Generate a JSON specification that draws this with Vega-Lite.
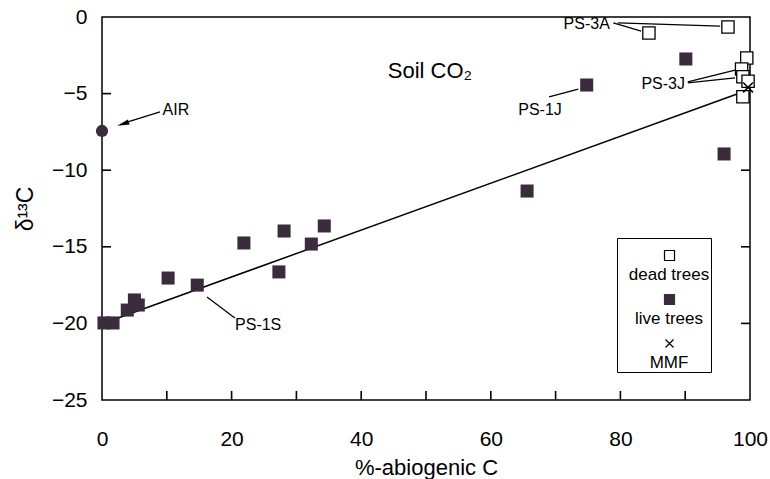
{
  "$schema": "https://vega.github.io/schema/vega-lite/v6.json",
  "width": 648,
  "height": 383,
  "autosize": {"type": "none"},
  "padding": {"left": 102, "top": 17, "right": 20, "bottom": 79},
  "background": "white",
  "config": {
    "view": {"stroke": "black", "strokeWidth": 1.5},
    "font": "Liberation Sans",
    "axis": {
      "domain": false, "ticks": false, "grid": false,
      "labelColor": "black", "titleColor": "black",
      "labelFont": "Liberation Sans", "titleFont": "Liberation Sans",
      "labelFontSize": 21, "titleFontSize": 21, "titleFontWeight": "normal"
    }
  },
  "datasets": {
    "points": [
      {"x": 0.3, "y": -19.97, "type": "live trees"},
      {"x": 1.7, "y": -19.97, "type": "live trees"},
      {"x": 3.9, "y": -19.13, "type": "live trees"},
      {"x": 5.0, "y": -18.47, "type": "live trees"},
      {"x": 5.6, "y": -18.8, "type": "live trees"},
      {"x": 10.2, "y": -17.04, "type": "live trees"},
      {"x": 14.7, "y": -17.5, "type": "live trees"},
      {"x": 21.9, "y": -14.75, "type": "live trees"},
      {"x": 27.3, "y": -16.64, "type": "live trees"},
      {"x": 28.1, "y": -13.97, "type": "live trees"},
      {"x": 32.3, "y": -14.82, "type": "live trees"},
      {"x": 34.3, "y": -13.64, "type": "live trees"},
      {"x": 65.6, "y": -11.36, "type": "live trees"},
      {"x": 74.8, "y": -4.44, "type": "live trees"},
      {"x": 90.1, "y": -2.74, "type": "live trees"},
      {"x": 96.0, "y": -8.94, "type": "live trees"},
      {"x": 84.4, "y": -1.04, "type": "dead trees"},
      {"x": 96.6, "y": -0.65, "type": "dead trees"},
      {"x": 99.5, "y": -2.68, "type": "dead trees"},
      {"x": 98.7, "y": -3.4, "type": "dead trees"},
      {"x": 98.9, "y": -3.9, "type": "dead trees"},
      {"x": 99.7, "y": -4.2, "type": "dead trees"},
      {"x": 98.9, "y": -5.2, "type": "dead trees"},
      {"x": 99.7, "y": -4.6, "type": "MMF"}
    ],
    "air": [{"x": 0, "y": -7.44}],
    "regression": [{"x": 2.5, "y": -19.65}, {"x": 99.5, "y": -4.8}],
    "xticks": [{"x": 10}, {"x": 20}, {"x": 30}, {"x": 40}, {"x": 50}, {"x": 60}, {"x": 70}, {"x": 80}, {"x": 90}],
    "yticks": [{"y": -20}, {"y": -15}, {"y": -10}, {"y": -5}],
    "leaders": [
      {"x": 78.9, "y": -0.39, "x2": 83.2, "y2": -0.92},
      {"x": 79.6, "y": -0.39, "x2": 95.4, "y2": -0.6},
      {"x": 90.4, "y": -4.24, "x2": 97.7, "y2": -3.46},
      {"x": 90.4, "y": -4.3, "x2": 97.7, "y2": -3.98},
      {"x": 69.0, "y": -5.22, "x2": 73.5, "y2": -4.7},
      {"x": 16.2, "y": -18.28, "x2": 20.5, "y2": -19.65},
      {"x": 8.95, "y": -6.2, "x2": 4.0, "y2": -6.85}
    ],
    "arrowhead": [{"x": 3.24, "y": -6.98}],
    "labels": [
      {"x": 11.4, "y": -6.07, "text": "AIR"},
      {"x": 74.8, "y": -0.46, "text": "PS-3A"},
      {"x": 86.6, "y": -4.37, "text": "PS-3J"},
      {"x": 67.6, "y": -6.07, "text": "PS-1J"},
      {"x": 24.1, "y": -20.1, "text": "PS-1S"}
    ],
    "title": [{"x": 50.6, "y": -3.5, "text": "Soil CO₂"}]
  },
  "layer": [
    {
      "data": {"name": "regression"},
      "mark": {"type": "line", "color": "black", "strokeWidth": 1.5},
      "encoding": {
        "x": {"field": "x", "type": "quantitative", "scale": {"domain": [0, 100], "nice": false, "zero": false}, "axis": null},
        "y": {"field": "y", "type": "quantitative", "scale": {"domain": [-25, 0], "nice": false, "zero": false}, "axis": null}
      }
    },
    {
      "data": {"name": "xticks"},
      "mark": {"type": "rule", "color": "black", "strokeWidth": 1.6},
      "encoding": {
        "x": {"field": "x", "type": "quantitative", "scale": {"domain": [0, 100], "nice": false, "zero": false}, "axis": null},
        "y": {"datum": -25, "type": "quantitative", "scale": {"domain": [-25, 0], "nice": false, "zero": false}, "axis": null},
        "y2": {"datum": -24.41}
      }
    },
    {
      "data": {"name": "yticks"},
      "mark": {"type": "rule", "color": "black", "strokeWidth": 1.6},
      "encoding": {
        "x": {"datum": 0, "type": "quantitative", "scale": {"domain": [0, 100], "nice": false, "zero": false}, "axis": null},
        "x2": {"datum": 1.39},
        "y": {"field": "y", "type": "quantitative", "scale": {"domain": [-25, 0], "nice": false, "zero": false}, "axis": null}
      }
    },
    {
      "data": {"name": "yticks"},
      "mark": {"type": "rule", "color": "black", "strokeWidth": 1.6},
      "encoding": {
        "x": {"datum": 98.61, "type": "quantitative", "scale": {"domain": [0, 100], "nice": false, "zero": false}, "axis": null},
        "x2": {"datum": 100},
        "y": {"field": "y", "type": "quantitative", "scale": {"domain": [-25, 0], "nice": false, "zero": false}, "axis": null}
      }
    },
    {
      "data": {"name": "leaders"},
      "mark": {"type": "rule", "color": "black", "strokeWidth": 1.3},
      "encoding": {
        "x": {"field": "x", "type": "quantitative", "scale": {"domain": [0, 100], "nice": false, "zero": false}, "axis": null},
        "y": {"field": "y", "type": "quantitative", "scale": {"domain": [-25, 0], "nice": false, "zero": false}, "axis": null},
        "x2": {"field": "x2"},
        "y2": {"field": "y2"}
      }
    },
    {
      "data": {"name": "arrowhead"},
      "mark": {"type": "point", "shape": "M0,-1L0.45,1L-0.45,1Z", "size": 150, "angle": 251.6, "filled": true, "color": "black", "opacity": 1},
      "encoding": {
        "x": {"field": "x", "type": "quantitative", "scale": {"domain": [0, 100], "nice": false, "zero": false}, "axis": null},
        "y": {"field": "y", "type": "quantitative", "scale": {"domain": [-25, 0], "nice": false, "zero": false}, "axis": null}
      }
    },
    {
      "data": {"name": "points"},
      "transform": [{"filter": "datum.type === 'live trees'"}],
      "mark": {"type": "point", "shape": "square", "filled": true, "size": 170, "color": "#3b2c3d", "opacity": 1},
      "encoding": {
        "x": {"field": "x", "type": "quantitative", "scale": {"domain": [0, 100], "nice": false, "zero": false},
          "axis": {"title": "%-abiogenic C", "values": [0, 20, 40, 60, 80, 100],
            "labelPadding": 28, "titlePadding": 8, "titleFontSize": 22, "labelFlush": false, "labelOverlap": false}},
        "y": {"field": "y", "type": "quantitative", "scale": {"domain": [-25, 0], "nice": false, "zero": false},
          "axis": {"title": "δ¹³C", "values": [-25, -20, -15, -10, -5, 0],
            "labelPadding": 15, "titlePadding": 14, "titleFontSize": 23, "labelFlush": false, "labelOverlap": false}}
      }
    },
    {
      "data": {"name": "points"},
      "transform": [{"filter": "datum.type === 'dead trees'"}],
      "mark": {"type": "point", "shape": "square", "filled": false, "size": 150, "fill": "white", "stroke": "black", "strokeWidth": 1.3, "opacity": 1},
      "encoding": {
        "x": {"field": "x", "type": "quantitative", "scale": {"domain": [0, 100], "nice": false, "zero": false}, "axis": null},
        "y": {"field": "y", "type": "quantitative", "scale": {"domain": [-25, 0], "nice": false, "zero": false}, "axis": null}
      }
    },
    {
      "data": {"name": "points"},
      "transform": [{"filter": "datum.type === 'MMF'"}],
      "mark": {"type": "point", "shape": "M-0.8,-0.8L0.8,0.8M-0.8,0.8L0.8,-0.8", "filled": false, "size": 150, "stroke": "black", "strokeWidth": 1.5, "opacity": 1},
      "encoding": {
        "x": {"field": "x", "type": "quantitative", "scale": {"domain": [0, 100], "nice": false, "zero": false}, "axis": null},
        "y": {"field": "y", "type": "quantitative", "scale": {"domain": [-25, 0], "nice": false, "zero": false}, "axis": null}
      }
    },
    {
      "data": {"name": "points"},
      "transform": [{"filter": "false"}],
      "mark": {"type": "point", "filled": true, "size": 100, "strokeWidth": 1.2, "opacity": 1},
      "encoding": {
        "x": {"field": "x", "type": "quantitative", "scale": {"domain": [0, 100], "nice": false, "zero": false}, "axis": null},
        "y": {"field": "y", "type": "quantitative", "scale": {"domain": [-25, 0], "nice": false, "zero": false}, "axis": null},
        "shape": {"field": "type", "type": "nominal",
          "scale": {"domain": ["dead trees", "live trees", "MMF"],
            "range": ["M-1,0.6H1V2.6H-1Z", "M-1,0.6H1V2.6H-1Z", "M-0.8,0.8L0.8,2.4M-0.8,2.4L0.8,0.8"]},
          "legend": {
            "title": null, "orient": "none", "legendX": 515, "legendY": 221,
            "strokeColor": "black", "padding": 1, "symbolSize": 100, "symbolStrokeWidth": 1.2,
            "symbolOffset": 43, "labelOffset": -9, "labelAlign": "center", "labelBaseline": "top", "labelFontSize": 17,
            "labelExpr": "['', datum.label]",
            "labelFont": "Liberation Sans", "labelColor": "black", "rowPadding": 0
          }},
        "fill": {"field": "type", "type": "nominal",
          "scale": {"domain": ["dead trees", "live trees", "MMF"], "range": ["white", "#3b2c3d", "transparent"]}},
        "stroke": {"field": "type", "type": "nominal",
          "scale": {"domain": ["dead trees", "live trees", "MMF"], "range": ["black", "#3b2c3d", "black"]}}
      }
    },
    {
      "data": {"name": "air"},
      "mark": {"type": "circle", "size": 150, "color": "#3b2c3d", "opacity": 1},
      "encoding": {
        "x": {"field": "x", "type": "quantitative", "scale": {"domain": [0, 100], "nice": false, "zero": false}, "axis": null},
        "y": {"field": "y", "type": "quantitative", "scale": {"domain": [-25, 0], "nice": false, "zero": false}, "axis": null}
      }
    },
    {
      "data": {"name": "labels"},
      "mark": {"type": "text", "font": "Liberation Sans", "fontSize": 16, "color": "black", "align": "center", "baseline": "middle"},
      "encoding": {
        "x": {"field": "x", "type": "quantitative", "scale": {"domain": [0, 100], "nice": false, "zero": false}, "axis": null},
        "y": {"field": "y", "type": "quantitative", "scale": {"domain": [-25, 0], "nice": false, "zero": false}, "axis": null},
        "text": {"field": "text"}
      }
    },
    {
      "data": {"name": "title"},
      "mark": {"type": "text", "font": "Liberation Sans", "fontSize": 22, "color": "black", "align": "center", "baseline": "middle"},
      "encoding": {
        "x": {"field": "x", "type": "quantitative", "scale": {"domain": [0, 100], "nice": false, "zero": false}, "axis": null},
        "y": {"field": "y", "type": "quantitative", "scale": {"domain": [-25, 0], "nice": false, "zero": false}, "axis": null},
        "text": {"field": "text"}
      }
    }
  ],
  "resolve": {"axis": {"x": "independent", "y": "independent"}}
}
